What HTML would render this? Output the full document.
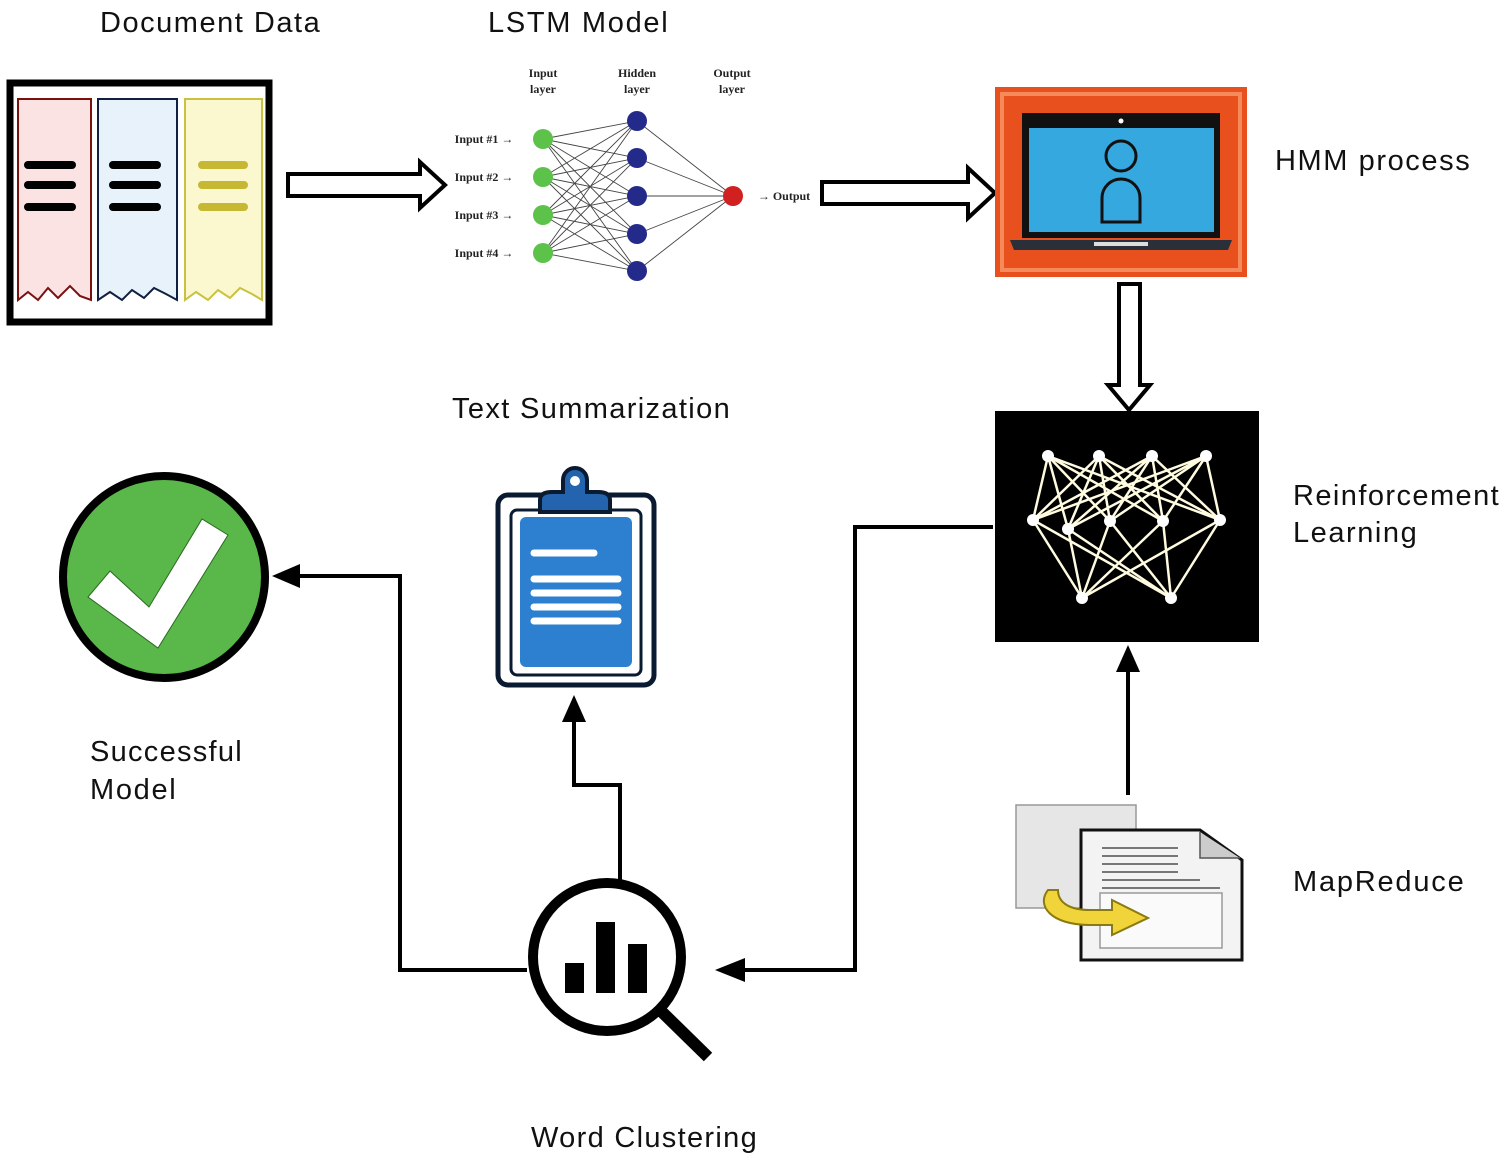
<!DOCTYPE html>
<html><head><meta charset="utf-8"><style>
html,body{margin:0;padding:0;background:#fff}
svg{display:block}
.lbl{font-family:"Liberation Sans",sans-serif}
.nn{font-family:"Liberation Serif",serif;font-weight:bold}
</style></head><body>
<svg width="1504" height="1165" viewBox="0 0 1504 1165" xmlns="http://www.w3.org/2000/svg">
<!-- Labels -->
<g class="lbl" font-size="29" fill="#111" letter-spacing="0.3">
<text x="210" y="32" text-anchor="middle" textLength="220">Document Data</text>
<text x="578" y="32" text-anchor="middle" textLength="180">LSTM Model</text>
<text x="1275" y="170" textLength="195">HMM process</text>
<text x="591" y="418" text-anchor="middle" textLength="278">Text Summarization</text>
<text x="1293" y="505" textLength="206">Reinforcement</text>
<text x="1293" y="542" textLength="124">Learning</text>
<text x="90" y="761" textLength="152">Successful</text>
<text x="90" y="799" textLength="86">Model</text>
<text x="1293" y="891" textLength="171">MapReduce</text>
<text x="644" y="1147" text-anchor="middle" textLength="226">Word Clustering</text>
</g>

<!-- Document Data -->
<rect x="10" y="83" width="259" height="239" fill="#fff" stroke="#000" stroke-width="7"/>
<path d="M18 99 H91 V300 L80 296 L70 286 L58 298 L48 288 L38 300 L28 292 L18 300 Z" fill="#fbe3e3" stroke="#7a1010" stroke-width="2"/>
<path d="M98 99 H177 V300 L166 294 L154 288 L144 298 L132 290 L122 300 L110 292 L98 300 Z" fill="#e8f2fb" stroke="#102040" stroke-width="2"/>
<path d="M185 99 H262 V300 L252 294 L240 288 L230 298 L218 290 L208 300 L196 292 L185 300 Z" fill="#fbf7cf" stroke="#c9c240" stroke-width="2"/>
<g stroke-linecap="round" stroke-width="8">
<line x1="28" y1="165" x2="72" y2="165" stroke="#000"/><line x1="28" y1="185" x2="72" y2="185" stroke="#000"/><line x1="28" y1="207" x2="72" y2="207" stroke="#000"/>
<line x1="113" y1="165" x2="157" y2="165" stroke="#000"/><line x1="113" y1="185" x2="157" y2="185" stroke="#000"/><line x1="113" y1="207" x2="157" y2="207" stroke="#000"/>
<line x1="202" y1="165" x2="244" y2="165" stroke="#c6b832"/><line x1="202" y1="185" x2="244" y2="185" stroke="#c6b832"/><line x1="202" y1="207" x2="244" y2="207" stroke="#c6b832"/>
</g>

<!-- Hollow arrows -->
<path d="M288 174 H420 V162 L445 185 L420 208 V196 H288 Z" fill="#fff" stroke="#000" stroke-width="4"/>
<path d="M822 182 H968 V168 L995 193 L968 218 V204 H822 Z" fill="#fff" stroke="#000" stroke-width="4"/>
<path d="M1119 284 H1140 V385 H1150 L1129 410 L1108 385 H1119 Z" fill="#fff" stroke="#000" stroke-width="4"/>

<!-- NN -->
<g class="nn" font-size="12" fill="#222" text-anchor="middle">
<text x="543" y="77">Input</text><text x="543" y="93">layer</text>
<text x="637" y="77">Hidden</text><text x="637" y="93">layer</text>
<text x="732" y="77">Output</text><text x="732" y="93">layer</text>
<text x="484" y="143">Input #1 →</text><text x="484" y="181">Input #2 →</text>
<text x="484" y="219">Input #3 →</text><text x="484" y="257">Input #4 →</text>
<text x="784" y="200">→ Output</text>
</g>
<g stroke="#444" stroke-width="0.9">
<path d="M543 139L637 121M543 139L637 158M543 139L637 196M543 139L637 234M543 139L637 271
M543 177L637 121M543 177L637 158M543 177L637 196M543 177L637 234M543 177L637 271
M543 215L637 121M543 215L637 158M543 215L637 196M543 215L637 234M543 215L637 271
M543 253L637 121M543 253L637 158M543 253L637 196M543 253L637 234M543 253L637 271
M637 121L733 196M637 158L733 196M637 196L733 196M637 234L733 196M637 271L733 196"/>
</g>
<g fill="#5cc24a"><circle cx="543" cy="139" r="10"/><circle cx="543" cy="177" r="10"/><circle cx="543" cy="215" r="10"/><circle cx="543" cy="253" r="10"/></g>
<g fill="#232a8a"><circle cx="637" cy="121" r="10"/><circle cx="637" cy="158" r="10"/><circle cx="637" cy="196" r="10"/><circle cx="637" cy="234" r="10"/><circle cx="637" cy="271" r="10"/></g>
<circle cx="733" cy="196" r="10" fill="#d02020"/>

<!-- HMM -->
<rect x="995" y="87" width="252" height="190" fill="#e8501e"/>
<rect x="1002" y="94" width="238" height="176" fill="none" stroke="#f58a5a" stroke-width="4"/>
<rect x="1022" y="113" width="198" height="125" fill="#111"/>
<rect x="1029" y="128" width="185" height="104" fill="#35a8e0"/>
<circle cx="1121" cy="121" r="2.5" fill="#fff"/>
<path d="M1010 240 H1232 L1228 250 H1014 Z" fill="#2a2f3a"/>
<rect x="1094" y="242" width="54" height="4" fill="#ddd"/>
<circle cx="1121" cy="156" r="15" fill="none" stroke="#111" stroke-width="3"/>
<path d="M1102 222 V198 A19 19 0 0 1 1140 198 V222 Z" fill="none" stroke="#111" stroke-width="3"/>

<!-- RL -->
<rect x="995" y="411" width="264" height="231" fill="#000"/>
<g stroke="#fffbe0" stroke-width="2.5">
<path d="M1048 456L1033 520M1048 456L1068 529M1048 456L1110 521M1048 456L1163 521M1048 456L1220 520
M1099 456L1033 520M1099 456L1068 529M1099 456L1110 521M1099 456L1163 521M1099 456L1220 520
M1152 456L1033 520M1152 456L1068 529M1152 456L1110 521M1152 456L1163 521M1152 456L1220 520
M1206 456L1033 520M1206 456L1068 529M1206 456L1110 521M1206 456L1163 521M1206 456L1220 520
M1033 520L1082 598M1033 520L1171 598M1068 529L1082 598M1068 529L1171 598M1110 521L1082 598M1110 521L1171 598
M1163 521L1082 598M1163 521L1171 598M1220 520L1082 598M1220 520L1171 598"/>
</g>
<g fill="#fff"><circle cx="1048" cy="456" r="6"/><circle cx="1099" cy="456" r="6"/><circle cx="1152" cy="456" r="6"/><circle cx="1206" cy="456" r="6"/>
<circle cx="1033" cy="520" r="6"/><circle cx="1068" cy="529" r="6"/><circle cx="1110" cy="521" r="6"/><circle cx="1163" cy="521" r="6"/><circle cx="1220" cy="520" r="6"/>
<circle cx="1082" cy="598" r="6"/><circle cx="1171" cy="598" r="6"/></g>

<!-- connectors -->
<g stroke="#000" stroke-width="4" fill="none">
<line x1="1128" y1="795" x2="1128" y2="668"/>
<polyline points="993,527 855,527 855,970 740,970"/>
<polyline points="620,880 620,785 574,785 574,720"/>
<polyline points="527,970 400,970 400,576 296,576"/>
</g>
<path d="M1128 645 L1140 672 L1116 672 Z"/>
<path d="M715 970 L745 958 L745 982 Z"/>
<path d="M574 695 L586 722 L562 722 Z"/>
<path d="M272 576 L300 564 L300 588 Z"/>

<!-- MapReduce -->
<rect x="1016" y="805" width="120" height="103" fill="#e6e6e6" stroke="#999" stroke-width="1.5"/>
<path d="M1081 830 H1200 L1242 860 V960 H1081 Z" fill="#f3f3f3" stroke="#111" stroke-width="3"/>
<path d="M1200 832 V858 H1240" fill="#ccc" stroke="#555" stroke-width="1.5"/>
<g stroke="#777" stroke-width="2"><line x1="1102" y1="848" x2="1178" y2="848"/><line x1="1102" y1="856" x2="1178" y2="856"/><line x1="1102" y1="864" x2="1178" y2="864"/><line x1="1102" y1="872" x2="1178" y2="872"/><line x1="1102" y1="880" x2="1200" y2="880"/><line x1="1102" y1="888" x2="1220" y2="888"/></g>
<rect x="1100" y="893" width="122" height="55" fill="#fafafa" stroke="#999" stroke-width="1.5"/>
<path d="M1048 890 C1036 905 1050 925 1090 925 H1112 V935 L1148 918 L1112 900 V910 H1090 C1070 910 1058 903 1058 890 Z" fill="#f1d43a" stroke="#8a7a10" stroke-width="2"/>

<!-- Word Clustering -->
<line x1="660" y1="1010" x2="708" y2="1057" stroke="#000" stroke-width="12"/>
<circle cx="607" cy="957" r="74" fill="#fff" stroke="#000" stroke-width="10"/>
<rect x="565" y="963" width="19" height="30" fill="#000"/>
<rect x="596" y="922" width="19" height="71" fill="#000"/>
<rect x="628" y="944" width="19" height="49" fill="#000"/>

<!-- Check -->
<circle cx="164" cy="577" r="101" fill="#5ab84a" stroke="#000" stroke-width="8"/>
<path d="M88 597 L110 571 L149 607 L202 519 L228 535 L158 648 Z" fill="#fff" stroke="#2a6a20" stroke-width="1"/>

<!-- Clipboard -->
<rect x="498" y="495" width="156" height="190" rx="10" fill="#fff" stroke="#0a1a30" stroke-width="5"/>
<rect x="511" y="510" width="130" height="165" rx="6" fill="#fff" stroke="#0a1a30" stroke-width="3"/>
<rect x="520" y="517" width="112" height="150" rx="6" fill="#2d7fd0"/>
<path d="M540 500 Q540 492 552 492 H563 V480 A12 12 0 0 1 587 480 V492 H598 Q610 492 610 500 V512 H540 Z" fill="#2463ae" stroke="#0a1a30" stroke-width="4"/>
<circle cx="575" cy="481" r="5" fill="#fff"/>
<g stroke="#fff" stroke-width="7" stroke-linecap="round">
<line x1="534" y1="553" x2="594" y2="553"/>
<line x1="534" y1="579" x2="618" y2="579"/><line x1="534" y1="593" x2="618" y2="593"/><line x1="534" y1="607" x2="618" y2="607"/><line x1="534" y1="621" x2="618" y2="621"/>
</g>
</svg>
</body></html>
